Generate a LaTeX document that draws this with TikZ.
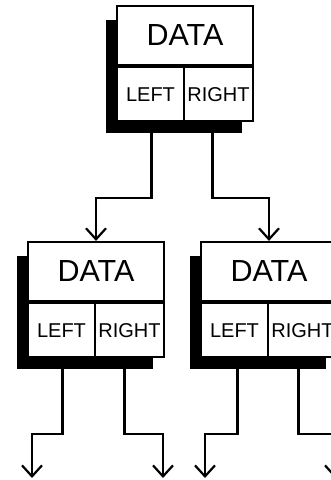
\documentclass[tikz,border=0pt]{standalone}
\usepackage{fontspec}
\setmainfont{Liberation Sans}
\usetikzlibrary{positioning,calc,arrows.meta,backgrounds}
\begin{document}
\begin{tikzpicture}[x=1pt, y=-1pt]
  \tikzstyle{datacell} = [draw, line width=2.2pt, fill=white, minimum width=136pt, minimum height=59pt, inner sep=0pt, font=\fontsize{30.5}{32}\selectfont]
  \tikzstyle{ptrcell} = [draw, line width=2.2pt, fill=white, minimum height=54pt, inner sep=0pt, font=\fontsize{20}{22}\selectfont]
  \tikzstyle{link} = [line width=2.2pt, -{Straight Barb[length=11pt, width=20pt]}]
  \tikzstyle{shade} = [fill=black]

  \useasboundingbox (0,0) rectangle (331,480);
  \clip (0,0) rectangle (331,480);

  % root node
  \node[datacell] (D0) at (185,35.5) {DATA};
  \node[ptrcell, minimum width=67pt, anchor=north west] (L0) at (D0.south west) {LEFT};
  \node[ptrcell, minimum width=69pt, anchor=north east] (R0) at (D0.south east) {RIGHT};

  % children
  \node[datacell] (D1) at (96,271.5) {DATA};
  \node[ptrcell, minimum width=67pt, anchor=north west] (L1) at (D1.south west) {LEFT};
  \node[ptrcell, minimum width=69pt, anchor=north east] (R1) at (D1.south east) {RIGHT};

  \node[datacell] (D2) at (269,271.5) {DATA};
  \node[ptrcell, minimum width=67pt, anchor=north west] (L2) at (D2.south west) {LEFT};
  \node[ptrcell, minimum width=69pt, anchor=north east] (R2) at (D2.south east) {RIGHT};

  % shadows
  \begin{pgfonlayer}{background}
    \foreach \n in {0,1,2}
      \fill[shade] ($(D\n.north west)+(-10,15)$) rectangle ($(R\n.south east)+(-12,11)$);
  \end{pgfonlayer}

  % links
  \draw[link] ([xshift=1pt]L0.south) -- ++(0,76) -| (D1.north);
  \draw[link] ([xshift=-6pt]R0.south) -- ++(0,76) -| (D2.north);

  \coordinate (E1) at (32,478);
  \coordinate (E2) at (163,478);
  \coordinate (E3) at (205,478);
  \coordinate (E4) at (335,478);
  \draw[link] ([xshift=1pt]L1.south) -- ++(0,76) -| (E1);
  \draw[link] ([xshift=-5pt]R1.south) -- ++(0,76) -| (E2);
  \draw[link] ([xshift=3pt]L2.south) -- ++(0,76) -| (E3);
  \draw[link] ([xshift=-4pt]R2.south) -- ++(0,76) -| (E4);
\end{tikzpicture}
\end{document}
